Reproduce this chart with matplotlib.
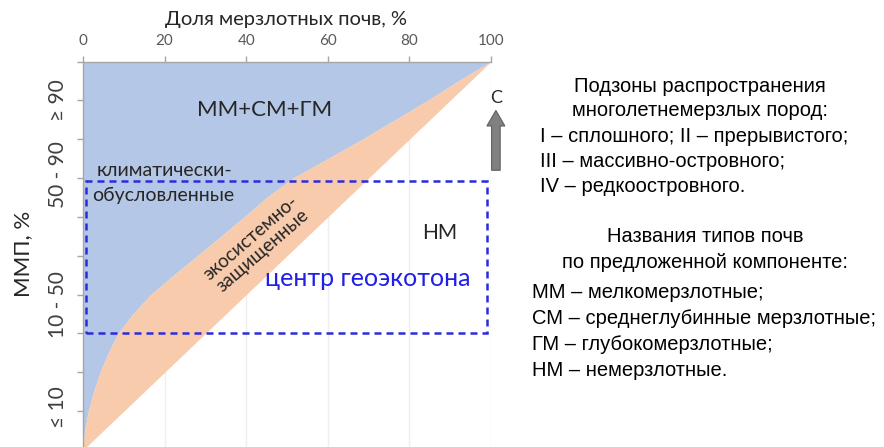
import matplotlib
matplotlib.use('Agg')
import matplotlib.pyplot as plt
from matplotlib.patches import Rectangle, FancyArrow

# ---------------- data ----------------
x_ticks = [0, 20, 40, 60, 80, 100]
y_ticks = [0, 10, 20, 30, 40, 50, 60, 70, 80, 90, 100]
# boundary between "climatic" (blue) and "ecosystem-protected" (orange) zones
bound_y = [100, 95, 90, 85, 80, 75, 70, 65, 60, 55, 50, 45, 40, 35, 30, 25, 20, 15, 10, 5, 2, 0]
bound_x = [100, 92, 84.5, 76.5, 68.5, 60, 51.5, 45, 39.5, 33.8, 28, 22.2, 16.6, 12.2, 8.6, 6.2, 4.2, 2.6, 1.3, 0.4, 0.1, 0]
# lower edge of orange zone (diagonal)
diag_x = bound_y
y_cat_labels = ['≥ 90', '50 - 90', '10 - 50', '≤ 10']
y_cat_pos = [90, 71, 37.5, 11]
frame_x = [0.7, 99.0]
frame_y = [30.0, 69.2]

legend_block1 = ['Подзоны распространения', 'многолетнемерзлых пород:']
legend_list1 = ['I – сплошного; II – прерывистого;', 'III – массивно-островного;', 'IV – редкоостровного.']
legend_block2 = ['Названия типов почв', 'по предложенной компоненте:']
legend_list2 = ['ММ – мелкомерзлотные;', 'СМ – среднеглубинные мерзлотные;', 'ГМ – глубокомерзлотные;', 'НМ – немерзлотные.']

BLUE = '#B4C7E7'
ORANGE = '#F8CBAD'
FONT = ['Lato', 'DejaVu Sans']
RFONT = ['Liberation Sans', 'DejaVu Sans']

W, H = 884, 447
fig = plt.figure(figsize=(W / 100, H / 100), dpi=100)
ax = fig.add_axes([83 / W, 1 - 450 / H, (491 - 83) / W, (450 - 61.5) / H])
ax.set_xlim(0, 100)
ax.set_ylim(0, 100)

# grid
ax.set_axisbelow(True)
for xv in x_ticks[1:]:
    ax.axvline(xv, color='#efefef', lw=1.0, zorder=0)

ax.fill_betweenx(bound_y, 0, bound_x, color=BLUE, lw=0, zorder=1)
ax.fill_betweenx(bound_y, bound_x, diag_x, color=ORANGE, lw=0, zorder=1)

# spines / ticks
for s in ['right', 'bottom']:
    ax.spines[s].set_visible(False)
for s in ['top', 'left']:
    ax.spines[s].set_color('#a6a6a6')
    ax.spines[s].set_linewidth(1.0)
ax.xaxis.tick_top()
ax.set_xticks(x_ticks)
ax.set_xticklabels([str(v) for v in x_ticks], family=FONT, fontsize=11, color='#595959')
ax.set_yticks(y_ticks)
ax.set_yticklabels([])
ax.tick_params(axis='both', direction='out', length=4, color='#a6a6a6', width=1)
ax.tick_params(axis='x', pad=6)

# dashed frame
ax.add_patch(Rectangle((frame_x[0], frame_y[0]), frame_x[1] - frame_x[0], frame_y[1] - frame_y[0],
                       fill=False, edgecolor='#2b2bdc', lw=1.8, linestyle=(0, (2.8, 2.0)),
                       zorder=3, clip_on=False))

# arrow and C
ax.add_patch(FancyArrow(101.2, 72, 0, 15.4, width=2.1, head_width=4.4, head_length=4.0,
                        length_includes_head=True, fc='#808080', ec='#606060', lw=0.8,
                        clip_on=False, zorder=4))
ax.text(101.2, 90.5, 'С', family=FONT, fontsize=13, color='#262626', ha='center', va='center')

# annotations
ax.text(44.6, 87.4, 'ММ+СМ+ГМ', family=FONT, fontsize=16, color='#262626', ha='center', va='center', zorder=5)
ax.text(3.4, 72.0, 'климатически-', family=FONT, fontsize=14, color='#262626', ha='left', va='center', zorder=5)
ax.text(2.2, 65.5, 'обусловленные', family=FONT, fontsize=14, color='#262626', ha='left', va='center', zorder=5)
ax.text(42.6, 53.0, 'экосистемно-\nзащищенные', family=FONT, fontsize=13.5, color='#262626',
        ha='center', va='center', rotation=41, rotation_mode='anchor', multialignment='center',
        linespacing=1.05, zorder=5)
ax.text(87.5, 55.8, 'НМ', family=FONT, fontsize=15, color='#262626', ha='center', va='center', zorder=5)
ax.text(69.9, 44.2, 'центр геоэкотона', family=FONT, fontsize=18, color='#1f1fe8', ha='center', va='center', zorder=5)

# y category labels
for lab, yp in zip(y_cat_labels, y_cat_pos):
    ax.text(-6.1, yp, lab, family=FONT, fontsize=15, color='#404040', rotation=90,
            ha='center', va='center', clip_on=False)
ax.text(-14.8, 50.4, 'ММП, %', family=FONT, fontsize=16, color='#262626', rotation=90,
        ha='center', va='center', clip_on=False)

def px(x, y):
    return x / W, 1 - y / H

fig.text(*px(286, 20), 'Доля мерзлотных почв, %', family=FONT, fontsize=14.5, color='#262626',
         ha='center', va='center')

# right-hand text
ys1 = [87, 111, 137, 162, 187]
for t, y in zip(legend_block1, ys1[:2]):
    fig.text(*px(700, y), t, family=RFONT, fontsize=14.5, color='black', ha='center', va='center')
for t, y in zip(legend_list1, ys1[2:]):
    fig.text(*px(540, y), t, family=RFONT, fontsize=14.5, color='black', ha='left', va='center')
ys2 = [237, 263, 292, 318, 344, 371]
for t, y in zip(legend_block2, ys2[:2]):
    fig.text(*px(705, y), t, family=RFONT, fontsize=14.5, color='black', ha='center', va='center')
for t, y in zip(legend_list2, ys2[2:]):
    fig.text(*px(532, y), t, family=RFONT, fontsize=14.5, color='black', ha='left', va='center')

fig.savefig('out.png', dpi=100)
